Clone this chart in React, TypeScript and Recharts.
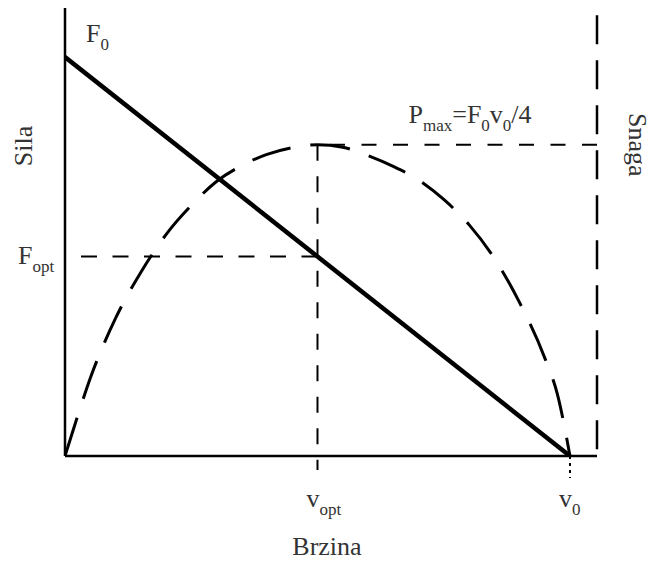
import React from 'react';
import { ComposedChart, Line, XAxis, YAxis, ReferenceLine, Label } from 'recharts';

// ---- data ----
const V_MAX = 10.535; // right edge of the plot (Snaga axis)
const Y_MAX = 112.3; // top of the force axis
const V0 = 10;
const V_OPT = 5;
const F0 = 100;
const F_OPT = 50;
const P_MAX = 78;

const FORCE_V = [0, 10];
const FORCE_VALS = [100, 0];

const POWER_V = [0, 0.25, 0.5, 0.75, 1, 1.5, 2, 2.5, 3, 3.5, 4, 4.5, 5, 5.5, 6, 6.5, 7, 7.5, 8, 8.5, 9, 9.5, 9.75, 10];
const POWER_VALS = [0, 10, 19.5, 27.5, 34.5, 46, 55.5, 62.8, 68.8, 72.8, 75.6, 77.3, 78, 77.4, 75.3, 72.6, 69.2, 64.3, 58, 49.6, 38.5, 24.6, 15.5, 0];

const X_TICKS = [V_OPT, V0];
const X_TICK_LABELS: [string, string][] = [['v', 'opt'], ['v', '0']];
const Y_TICKS = [F_OPT, F0];
const Y_TICK_LABELS: [string, string][] = [['F', 'opt'], ['F', '0']];
const PMAX_LABEL: [string, boolean][] = [['P', false], ['max', true], ['=F', false], ['0', true], ['v', false], ['0', true], ['/4', false]];
const X_TITLE = 'Brzina';
const Y_TITLE = 'Sila';
const Y2_TITLE = 'Snaga';

const forceData = FORCE_V.map((v, i) => ({ v, f: FORCE_VALS[i] }));
const powerData = POWER_V.map((v, i) => ({ v, p: POWER_VALS[i] }));

// ---- styles ----
const FONT = '"Liberation Serif", "Times New Roman", serif';
const TEXT = '#333';
const FS = 26;
const SFS = 17;

function SubText({ x, y, parts, anchor = 'start' }: { x: number; y: number; parts: [string, boolean][]; anchor?: string }) {
  let prevSub = false;
  return (
    <text x={x} y={y} fontFamily={FONT} fontSize={FS} fill={TEXT} textAnchor={anchor as any}>
      {parts.map(([t, sub], i) => {
        const dy = sub === prevSub ? 0 : sub ? 8 : -8;
        prevSub = sub;
        return (
          <tspan key={i} dy={dy} fontSize={sub ? SFS : FS}>
            {t}
          </tspan>
        );
      })}
    </text>
  );
}

const XTick = (props: any) => {
  const { x, y, payload } = props;
  const idx = X_TICKS.indexOf(payload.value);
  const [m, s] = X_TICK_LABELS[idx];
  return <SubText x={x - 11} y={y + 51} parts={[[m, false], [s, true]]} />;
};

const YTick = (props: any) => {
  const { x, y, payload } = props;
  const idx = Y_TICKS.indexOf(payload.value);
  const [m, s] = Y_TICK_LABELS[idx];
  if (payload.value === F0) {
    return <SubText x={x + 21} y={y - 15} parts={[[m, false], [s, true]]} />;
  }
  return <SubText x={x - 47} y={y + 7} parts={[[m, false], [s, true]]} />;
};

export default function App() {
  return (
    <div style={{ position: 'absolute', left: 0, top: 0, width: 652, height: 563, background: '#fff' }}>
      <ComposedChart width={652} height={563} margin={{ top: 8, right: 55, bottom: 0, left: 0 }}>
        <XAxis
          dataKey="v"
          type="number"
          domain={[0, V_MAX]}
          ticks={X_TICKS}
          tick={<XTick />}
          tickLine={false}
          tickSize={0}
          tickMargin={0}
          height={107}
          axisLine={{ stroke: '#000', strokeWidth: 2.5 }}
          allowDataOverflow
        />
        <YAxis
          type="number"
          domain={[0, Y_MAX]}
          ticks={Y_TICKS}
          tick={<YTick />}
          tickLine={false}
          tickSize={0}
          tickMargin={0}
          width={65}
          axisLine={{ stroke: '#000', strokeWidth: 2.5 }}
          allowDataOverflow
        >
          <Label
            content={(p: any) => {
              const vb = p.viewBox;
              const cx = vb.x + 32;
              const cy = vb.y + 138;
              return (
                <text x={cx} y={cy} transform={`rotate(-90, ${cx}, ${cy})`} fontFamily={FONT} fontSize={FS} fill={TEXT} textAnchor="middle">
                  {Y_TITLE}
                </text>
              );
            }}
          />
        </YAxis>

        {/* Snaga axis (right, dashed) */}
        <ReferenceLine
          segment={[{ x: V_MAX, y: 110.5 }, { x: V_MAX, y: 0 }]}
          stroke="#000"
          strokeWidth={2.5}
          strokeDasharray="29 16"
          ifOverflow="visible"
        />
        {/* F_opt horizontal */}
        <ReferenceLine
          segment={[{ x: V_OPT, y: F_OPT }, { x: 0, y: F_OPT }]}
          stroke="#000"
          strokeWidth={2}
          strokeDasharray="16 15.5"
          ifOverflow="visible"
        />
        {/* v_opt vertical, carries the x-axis title */}
        <ReferenceLine
          segment={[{ x: V_OPT, y: P_MAX }, { x: V_OPT, y: -3.5 }]}
          stroke="#000"
          strokeWidth={2}
          strokeDasharray="16 15.5"
          ifOverflow="visible"
          label={(p: any) => {
            const vb = p.viewBox;
            const ay = Number.isFinite(vb.height) ? vb.y + vb.height : vb.y;
            return (
              <text x={vb.x + 9.5} y={ay + 85} fontFamily={FONT} fontSize={FS} fill={TEXT} textAnchor="middle">
                {X_TITLE}
              </text>
            );
          }}
        />
        {/* v0 dotted below axis */}
        <ReferenceLine
          segment={[{ x: V0, y: 0 }, { x: V0, y: -5.5 }]}
          stroke="#000"
          strokeWidth={2}
          strokeDasharray="3 4"
          ifOverflow="visible"
        />
        {/* P_max horizontal */}
        <ReferenceLine
          segment={[{ x: V_MAX, y: P_MAX }, { x: V_OPT, y: P_MAX }]}
          stroke="#000"
          strokeWidth={2}
          strokeDasharray="15 16.5"
          ifOverflow="visible"
          label={(p: any) => {
            const vb = p.viewBox;
            const sx = vb.x + vb.width + 32;
            const sy = vb.y;
            return (
              <g>
                <SubText x={vb.x + 91} y={vb.y - 22} parts={PMAX_LABEL} />
                <text x={sx} y={sy} transform={`rotate(90, ${sx}, ${sy})`} fontFamily={FONT} fontSize={FS} fill={TEXT} textAnchor="middle">
                  {Y2_TITLE}
                </text>
              </g>
            );
          }}
        />

        <Line
          data={powerData}
          dataKey="p"
          type="monotone"
          stroke="#000"
          strokeWidth={3}
          strokeDasharray="40 20"
          dot={false}
          activeDot={false}
          isAnimationActive={false}
        />
        <Line
          data={forceData}
          dataKey="f"
          type="linear"
          stroke="#000"
          strokeWidth={4.5}
          dot={false}
          activeDot={false}
          isAnimationActive={false}
        />
      </ComposedChart>
    </div>
  );
}
